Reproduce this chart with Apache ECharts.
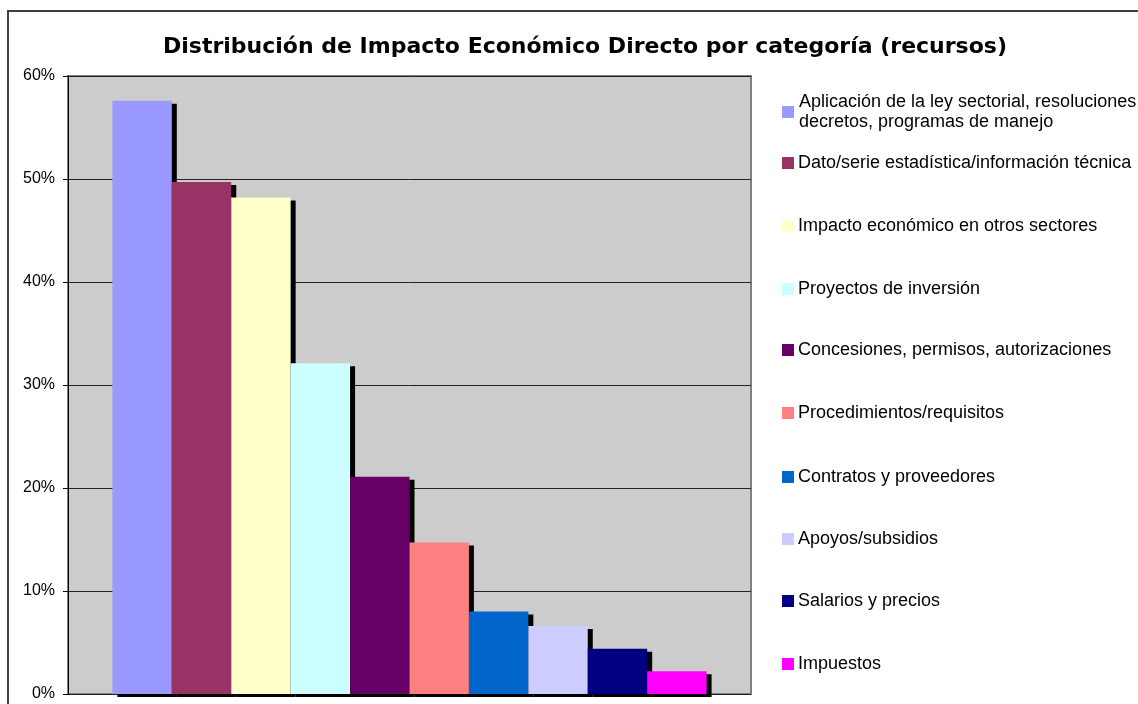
<!DOCTYPE html>
<html>
<head>
    <meta charset="utf-8">
    <title>Distribución de Impacto Económico Directo</title>
    <script src="https://cdn.jsdelivr.net/npm/echarts@6/dist/echarts.min.js"></script>
    <style>
        html, body {margin: 0; padding: 0; background: #fff;}
        #container {width: 1138px; height: 704px;}
    </style>
</head>
<body>
<div id="container"></div>
<script type="text/javascript">
    // categorias (cada una es una serie en Excel)
    var categorias = [
        'Aplicación de la ley sectorial, resoluciones,\ndecretos, programas de manejo',
        'Dato/serie estadística/información técnica',
        'Impacto económico en otros sectores',
        'Proyectos de inversión',
        'Concesiones, permisos, autorizaciones',
        'Procedimientos/requisitos',
        'Contratos y proveedores',
        'Apoyos/subsidios',
        'Salarios y precios',
        'Impuestos'
    ];
    // porcentaje por categoria
    var valores = [57.6, 49.7, 48.2, 32.1, 21.1, 14.7, 8.0, 6.6, 4.4, 2.2];
    var colores = ['#9999FF', '#993366', '#FFFFCC', '#CCFFFF', '#660066',
                   '#FF8080', '#0066CC', '#CCCCFF', '#000080', '#FF00FF'];
    var ticksY = [0, 10, 20, 30, 40, 50, 60];

    var mychart = echarts.init(document.getElementById('container'));

    var series = [];
    var legends = [];
    var legendTop = [106, 163, 226, 289, 350, 413, 477, 539, 601, 664];
    for (var i = 0; i < categorias.length; i++) {
        series.push({
            name: categorias[i],
            type: 'bar',
            barGap: '0%',
            barCategoryGap: '13%',
            data: [valores[i]],
            itemStyle: {
                color: colores[i],
                shadowColor: '#000',
                shadowBlur: 0,
                shadowOffsetX: 5,
                shadowOffsetY: 3
            }
        });
        var item = {name: categorias[i], icon: 'rect'};
        if (i == 0) {
            // primera linea alineada con el cuadro
            item.textStyle = {padding: [20, 0, 0, 0]};
        }
        legends.push({
            data: [item],
            orient: 'vertical',
            left: 782,
            top: (i == 0 ? legendTop[i] - 4 - 20 : legendTop[i] - 10),
            itemWidth: 12,
            itemHeight: 12,
            itemGap: 0,
            padding: 0,
            selectedMode: false,
            textStyle: {
                color: '#000',
                fontFamily: 'Liberation Sans, Arial, sans-serif',
                fontSize: 18,
                lineHeight: 20,
                padding: [0, 0, 0, -1]
            }
        });
    }

    var options = {
        backgroundColor: '#fff',
        animation: false,
        title: {
            text: 'Distribución de Impacto Económico Directo por categoría (recursos)',
            left: 580,
            top: 31,
            textAlign: 'center',
            textStyle: {
                fontFamily: 'DejaVu Sans, Verdana, sans-serif',
                fontWeight: 'bold',
                fontSize: 22,
                color: '#000'
            }
        },
        legend: legends,
        grid: {
            left: 68,
            top: 76,
            right: 387,
            bottom: 10,
            show: true,
            backgroundColor: '#CCCCCC',
            borderColor: '#808080',
            borderWidth: 2
        },
        xAxis: {
            type: 'category',
            data: [''],
            axisLine: {show: false},
            axisTick: {show: false},
            axisLabel: {show: false},
            splitLine: {show: false}
        },
        yAxis: {
            type: 'value',
            min: ticksY[0],
            max: ticksY[ticksY.length - 1],
            interval: 10,
            axisLine: {show: true, lineStyle: {color: '#000', width: 1}},
            axisTick: {show: true, length: 5, lineStyle: {color: '#000'}},
            axisLabel: {
                margin: 13,
                formatter: '{value}%',
                color: '#000',
                fontFamily: 'Liberation Sans, Arial, sans-serif',
                fontSize: 16
            },
            splitLine: {show: true, lineStyle: {color: '#222', width: 1}}
        },
        graphic: [{
            type: 'rect',
            silent: true,
            z: -1,
            shape: {x: 8, y: 11, width: 1300, height: 900},
            style: {fill: null, stroke: '#404040', lineWidth: 2}
        }],
        series: series
    };

    mychart.setOption(options);
</script>
</body>
</html>
